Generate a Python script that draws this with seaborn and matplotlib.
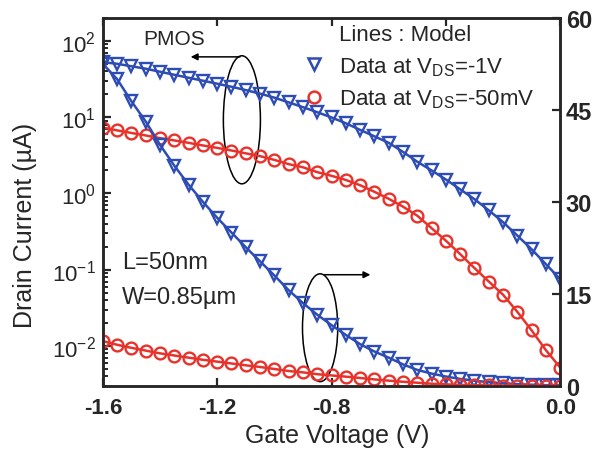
import numpy as np
import pandas as pd
import seaborn as sns
import matplotlib.pyplot as plt
from matplotlib.patches import Ellipse
from matplotlib.lines import Line2D
from matplotlib.ticker import LogLocator, FixedLocator

# gate voltage sweep (V)
vg = [-1.60, -1.55, -1.50, -1.45, -1.40, -1.35, -1.30, -1.25, -1.20, -1.15,
      -1.10, -1.05, -1.00, -0.95, -0.90, -0.85, -0.80, -0.75, -0.70, -0.65,
      -0.60, -0.55, -0.50, -0.45, -0.40, -0.35, -0.30, -0.25, -0.20, -0.15,
      -0.10, -0.05, 0.00]

# drain current (uA) at VDS = -1 V
id_1v = [52.5, 50.0, 46.4, 43.1, 39.3, 35.9, 32.8, 30.0, 27.4, 25.0,
         22.6, 20.3, 18.0, 15.6, 13.5, 11.6, 9.9, 8.3, 6.8, 5.6,
         4.6, 3.5, 2.6, 2.0, 1.52, 1.13, 0.84, 0.60, 0.42, 0.28,
         0.185, 0.118, 0.075]

# drain current (uA) at VDS = -50 mV
id_50mv = [7.3, 6.7, 6.2, 5.75, 5.3, 4.95, 4.6, 4.25, 3.95, 3.65,
           3.35, 3.08, 2.75, 2.42, 2.2, 1.9, 1.7, 1.5, 1.28, 1.05,
           0.85, 0.67, 0.51, 0.35, 0.24, 0.16, 0.105, 0.07, 0.047, 0.028,
           0.016, 0.0088, 0.0052]

x_ticks = [-1.6, -1.2, -0.8, -0.4, 0.0]
x_ticklabels = ['-1.6', '-1.2', '-0.8', '-0.4', '0.0']
lin_ticks = [0, 15, 30, 45, 60]

df = pd.DataFrame({'vg': vg, 'id_1v': id_1v, 'id_50mv': id_50mv})

blue = '#2d4cb4'
red = '#e8322c'

sns.set_style('ticks')
plt.rcParams['font.family'] = ['Liberation Sans', 'DejaVu Sans']
plt.rcParams['mathtext.fontset'] = 'custom'
plt.rcParams['mathtext.rm'] = 'Liberation Sans'
plt.rcParams['mathtext.it'] = 'Liberation Sans:italic'
plt.rcParams['mathtext.bf'] = 'Liberation Sans:bold'

fig = plt.figure(figsize=(6.05, 4.60), dpi=100)
ax = fig.add_axes([0.170, 0.159, 0.756, 0.800])
ax2 = ax.twinx()

style_1v = dict(color=blue, lw=1.8, marker='v', markersize=9,
                markerfacecolor='none', markeredgecolor=blue,
                markeredgewidth=1.7)
style_50 = dict(color=red, lw=1.8, marker='o', markersize=8.5,
                markerfacecolor='none', markeredgecolor=red,
                markeredgewidth=1.7)

# log scale (left axis)
sns.lineplot(data=df, x='vg', y='id_1v', ax=ax, **style_1v)
sns.lineplot(data=df, x='vg', y='id_50mv', ax=ax, **style_50)
# linear scale (right axis)
sns.lineplot(data=df, x='vg', y='id_1v', ax=ax2, **style_1v)
sns.lineplot(data=df, x='vg', y='id_50mv', ax=ax2, **style_50)

ax.set_yscale('log')
ax.set_ylim(3e-3, 2e2)
ax.set_xlim(-1.6, 0.0)
ax2.set_ylim(0, 60)
ax2.set_yticks(lin_ticks)
ax.set_xticks(x_ticks)
ax.set_xticklabels(x_ticklabels)
ax.yaxis.set_major_locator(LogLocator(base=10, numticks=100))
minor_locs = [m * 10.0 ** e for e in range(-3, 3) for m in range(2, 10)]
ax.yaxis.set_minor_locator(FixedLocator(minor_locs))

ax.set_xlabel('Gate Voltage (V)', fontsize=18)
ax.set_ylabel('Drain Current (\u00b5A)', fontsize=18)
ax.xaxis.set_label_coords(0.512, -0.10)
ax.yaxis.set_label_coords(-0.145, 0.44)
ax2.set_ylabel('')

ax.tick_params(which='both', direction='in', top=True, right=False,
               left=True, width=1.6)
ax.tick_params(which='major', length=6)
ax.tick_params(axis='x', which='major', labelsize=16, pad=8)
ax.tick_params(axis='y', which='major', labelsize=16, pad=5)
ax.tick_params(axis='y', which='minor', length=3.5, width=1.4, left=True)
ax2.tick_params(direction='in', length=6, width=1.6, labelsize=17, pad=4)
for lab in ax.get_xticklabels() + ax2.get_yticklabels():
    lab.set_fontweight('bold')

for a in (ax, ax2):
    for s in a.spines.values():
        s.set_linewidth(1.8)
        s.set_visible(True)

# annotations
ax.add_patch(Ellipse((0.304, 0.723), 0.081, 0.348, transform=ax.transAxes,
                     fill=False, lw=1.1, color='black'))
ax.add_patch(Ellipse((0.475, 0.158), 0.077, 0.293, transform=ax.transAxes,
                     fill=False, lw=1.1, color='black'))
ax.annotate('', xy=(0.186, 0.894), xytext=(0.306, 0.894), xycoords='axes fraction',
            arrowprops=dict(arrowstyle='-|>', color='black', lw=1.1,
                            mutation_scale=10))
ax.annotate('', xy=(0.591, 0.302), xytext=(0.479, 0.302), xycoords='axes fraction',
            arrowprops=dict(arrowstyle='-|>', color='black', lw=1.1,
                            mutation_scale=10))
ax.text(0.0875, 0.943, 'PMOS', transform=ax.transAxes, fontsize=15,
        va='center', ha='left')
ax.text(0.042, 0.337, 'L=50nm', transform=ax.transAxes, fontsize=17,
        va='center', ha='left')
ax.text(0.042, 0.242, 'W=0.85\u00b5m', transform=ax.transAxes, fontsize=17,
        va='center', ha='left')

handles = [
    Line2D([], [], linestyle='none'),
    Line2D([], [], linestyle='none', marker='v', markersize=9,
           markerfacecolor='none', markeredgecolor=blue, markeredgewidth=1.8),
    Line2D([], [], linestyle='none', marker='o', markersize=8.5,
           markerfacecolor='none', markeredgecolor=red, markeredgewidth=1.8),
]
labels = ['Lines : Model', r'Data at V$_{\mathrm{DS}}$=-1V',
          r'Data at V$_{\mathrm{DS}}$=-50mV']
leg = ax2.legend(handles, labels, loc='upper left', bbox_to_anchor=(0.405, 1.025),
                 frameon=False, fontsize=16, handlelength=0.9,
                 handletextpad=0.7, labelspacing=0.45, borderpad=0.2)

fig.savefig('out.png', dpi=100)
